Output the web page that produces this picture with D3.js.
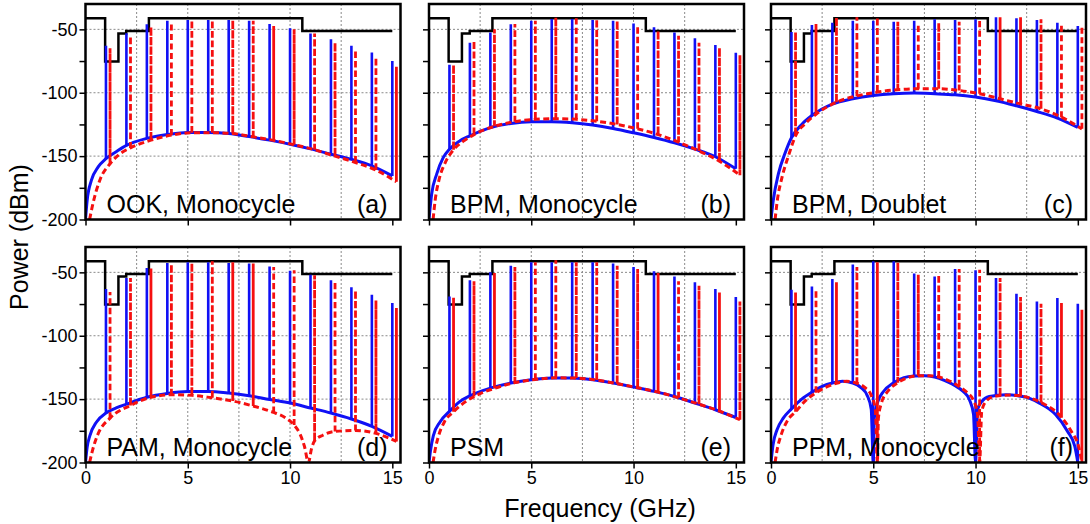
<!DOCTYPE html>
<html><head><meta charset="utf-8">
<script src="https://cdn.jsdelivr.net/npm/d3@7"></script>
<style>
html,body{margin:0;padding:0;background:#fff;}
text{font-family:"Liberation Sans",Arial,sans-serif;}
</style></head>
<body><svg id="chart" width="1090" height="524"></svg>
<script>
// ---------------- DATA ----------------
const panelNames = ["OOK, Monocycle","BPM, Monocycle","BPM, Doublet","PAM, Monocycle","PSM","PPM, Monocycle"];
const panelTags = ["(a)","(b)","(c)","(d)","(e)","(f)"];
const freqBlue = [1,2,3,4,5,6,7,8,9,10,11,12,13,14,15];
const freqRed = [1.2,2.2,3.2,4.2,5.2,6.2,7.2,8.2,9.2,10.2,11.2,12.2,13.2,14.2,15.2];
const xTickValues = [0,5,10,15];
const yTickValues = [-200,-175,-150,-125,-100,-75,-50];
const yTickLabels = {"-200":"-200","-150":"-150","-100":"-100","-50":"-50"};
const xGrid = [2.5,5,7.5,10,12.5];
const yGrid = [-150,-100,-50];
// FCC indoor mask (frequency GHz, dBm) – step after each point
const maskPoints = [[0,-41.3],[0.96,-75.3],[1.61,-53.3],[1.99,-51.3],[3.1,-41.3],[10.6,-51.3],[15,-51.3]];

const peaksBlueA = [-63,-53,-46,-43.2,-42.7,-42.7,-42.7,-43.2,-45.8,-49.2,-53.2,-57.9,-62.9,-68.2,-75];
const peaksRedA  = [-65,-55.3,-48,-44.8,-42.7,-42.7,-42.7,-43.2,-47.4,-50,-53.2,-60.5,-66.3,-72.1,-79.5];
const envBlueA = [[0,-200],[0.08,-185],[0.29,-169],[0.62,-158.5],[1,-152],[1.5,-146.5],[2,-141.5],[3,-136],[4,-133],[5,-131.3],[6,-131.3],[7,-132.1],[8,-134.6],[9,-137.4],[10,-140.6],[11,-144.3],[12,-148.5],[13,-152.6],[14,-157.7],[15,-165.6]];
const envRedA = [[0.2,-200],[0.37,-187],[0.7,-169],[1.2,-156],[1.7,-148],[2.2,-143.5],[3.2,-137.4],[4.2,-133.4],[5.2,-131.6],[6.2,-131.6],[7.2,-132.2],[8.2,-134.8],[9.2,-137.6],[10.2,-141],[11.2,-145],[12.2,-150],[13.2,-155],[14.2,-161],[15.2,-170.3]];

const peaksBlueB = [-78,-60.6,-52.4,-46,-43.2,-41.9,-41.9,-42.7,-43.2,-45.3,-48.4,-52.4,-57.1,-62.4,-68.5];
const peaksRedB  = [-78,-59,-50,-45.8,-43.2,-40.5,-40,-41.9,-43.2,-47.2,-51.1,-55,-60.6,-64.5,-70.3];
const envBlueB = [[0,-200],[0.13,-180],[0.38,-164],[0.7,-151],[1,-144.5],[1.5,-138],[2,-134],[3,-127.5],[4,-124.2],[5,-122.9],[6,-122.9],[7,-123.7],[8,-125.5],[9,-128.2],[10,-131.6],[11,-135.3],[12,-139.5],[13,-144.5],[14,-150.5],[15,-160]];
const envRedB = [[0.2,-200],[0.3,-185],[0.5,-168],[0.8,-155],[1.2,-145],[1.7,-138],[2.2,-133],[3.2,-126.5],[4.2,-122.8],[5.2,-121],[6.2,-120.5],[7.2,-121],[8.2,-122.5],[9.2,-125],[10.2,-128.5],[11.2,-133],[12.2,-139],[13.2,-146],[14.2,-154],[15.2,-165]];

const peaksBlueC = [-52,-46.6,-44.8,-43.2,-43.2,-44,-43.2,-42.1,-42.7,-42.1,-40.5,-41.3,-42.7,-44.8,-47.4];
const peaksRedC  = [-52,-45.8,-40.5,-40.5,-40.5,-44,-45.8,-44.8,-44,-42.1,-40.5,-40.5,-42.1,-45.8,-47.4];
const envBlueC = [[0,-200],[0.11,-185],[0.36,-164],[0.68,-148],[1,-135.5],[1.5,-125],[2,-118],[3,-109],[4,-104.8],[5,-102.2],[6,-100.8],[7,-100.3],[8,-100.8],[9,-101.6],[10,-103.4],[11,-106.3],[12,-110.3],[13,-114.8],[14,-120],[15,-127.4]];
const envRedC = [[0.2,-200],[0.3,-186],[0.55,-166],[0.85,-150],[1.2,-134],[1.7,-124],[2.2,-117],[3.2,-107.5],[4.2,-102.5],[5.2,-99.5],[6.2,-97.6],[7.2,-96.8],[8.2,-96.8],[9.2,-98.2],[10.2,-100.8],[11.2,-104.8],[12.2,-108.8],[13.2,-112.7],[14.2,-119.3],[15.2,-128.5]];

const peaksBlueD = [-63.1,-54.4,-46.5,-42.6,-42,-42,-42.6,-43.1,-45.3,-48.7,-51.8,-56.3,-61.8,-67.6,-74.2];
const peaksRedD  = [-65.5,-54.4,-47,-43.6,-42.6,-41.3,-42,-43.1,-45.8,-48.4,-52.3,-57.1,-64.2,-72.1,-78.1];
const envBlueD = [[0,-200],[0.08,-188],[0.21,-179],[0.54,-168],[1,-161],[1.5,-157],[2,-154],[3,-148.5],[4,-145.5],[5,-144],[6,-144],[7,-145.2],[8,-147.3],[9,-150.3],[10,-153.1],[11,-157],[12,-161],[13,-165.7],[14,-171.5],[15,-179.4]];
const envRedD = [[0.2,-200],[0.35,-190],[0.6,-178],[1.2,-165],[2.2,-155],[3.2,-148.5],[4.2,-146.6],[5.2,-147],[6.2,-149],[7.2,-151.5],[8.2,-155.5],[9.2,-160.5],[9.8,-165],[10.2,-170.5],[10.5,-178],[10.7,-187],[10.9,-200],[11.05,-189],[11.2,-183],[11.6,-178.5],[12.2,-175.5],[13.2,-174.7],[14.2,-177],[15.2,-183.4]];

const peaksBlueE = [-69,-56.3,-50,-44.7,-42.1,-42.1,-42.1,-42.1,-43.1,-45.8,-49.2,-53.2,-57.9,-63.2,-69.5];
const peaksRedE  = [-70,-57,-50.5,-45.8,-42.1,-40.5,-42.1,-42.1,-44.7,-47.4,-50.5,-57.1,-60.5,-65.8,-72.9];
const envBlueE = [[0,-200],[0.08,-190],[0.21,-179],[0.54,-168],[1,-159.7],[1.5,-152],[2,-147.4],[3,-141.3],[4,-137.3],[5,-134.7],[6,-133.4],[7,-133.4],[8,-134.7],[9,-137.3],[10,-140.5],[11,-143.9],[12,-147.9],[13,-153.1],[14,-158.4],[15,-164.5]];
const envRedE = [[0.2,-200],[0.3,-190],[0.45,-180],[0.75,-168],[1.2,-160],[1.7,-153],[2.2,-148],[3.2,-141.5],[4.2,-137],[5.2,-134.5],[6.2,-133.2],[7.2,-133.4],[8.2,-135],[9.2,-137.8],[10.2,-141],[11.2,-144.5],[12.2,-149],[13.2,-154],[14.2,-159.5],[15.2,-166.3]];

const peaksBlueF = [-63.7,-61.1,-55.3,-43.9,-41.3,-41.3,-51,-53.2,-47.3,-48.4,-54.4,-66.8,-72.9,-70.2,-74.7];
const peaksRedF  = [-65.8,-63.7,-57.9,-45.8,-42.1,-42.1,-51.8,-51.8,-47.4,-47.9,-54.4,-69.5,-74.7,-74.2,-79.5];
const envBlueF = [[0,-200],[0.1,-186],[0.3,-174],[0.6,-165],[1,-157.7],[1.5,-150],[2,-144.5],[2.5,-140],[3,-137.3],[3.5,-136],[4,-137.3],[4.4,-141],[4.7,-147],[4.9,-158],[5,-200],[5.05,-165],[5.2,-153],[5.5,-144],[6,-137],[6.5,-133],[7,-131.8],[7.5,-131.5],[8,-132.6],[8.5,-135.5],[9,-139.5],[9.4,-144],[9.7,-150.5],[9.9,-162],[10,-200],[10.1,-158],[10.3,-152],[10.67,-148],[11.5,-146.6],[12.45,-148.4],[13.1,-153],[13.9,-162],[14.5,-175.5],[14.85,-187],[15,-200]];
const envRedF = [[0.2,-200],[0.3,-190],[0.5,-178],[0.8,-167],[1.2,-160],[1.7,-151],[2.2,-145],[3.2,-137.5],[3.7,-136],[4.2,-137.5],[4.6,-141],[4.9,-147],[5.1,-158],[5.2,-200],[5.25,-165],[5.4,-153],[5.7,-144],[6.2,-137],[6.7,-133],[7.2,-131.5],[7.7,-131.5],[8.2,-132.5],[8.7,-135.5],[9.2,-140],[9.6,-145],[9.9,-151],[10.1,-162],[10.2,-200],[10.3,-160],[10.5,-152],[10.9,-148],[11.7,-146.8],[12.6,-148.8],[13.3,-153.5],[14.1,-162.5],[14.7,-176],[15.05,-188],[15.2,-200]];

const xTitle = "Frequency (GHz)";
const yTitle = "Power (dBm)";

// ---------------- LAYOUT ----------------
const panelLeft = [85.5, 429, 771];
const panelTop = [4, 247];
const panelW = 315, panelH = 215.5;
const BLUE = "#1010f5", RED = "#f51010";

const panels = [
  {peaksBlue:peaksBlueA, peaksRed:peaksRedA, envBlue:envBlueA, envRed:envRedA},
  {peaksBlue:peaksBlueB, peaksRed:peaksRedB, envBlue:envBlueB, envRed:envRedB},
  {peaksBlue:peaksBlueC, peaksRed:peaksRedC, envBlue:envBlueC, envRed:envRedC},
  {peaksBlue:peaksBlueD, peaksRed:peaksRedD, envBlue:envBlueD, envRed:envRedD},
  {peaksBlue:peaksBlueE, peaksRed:peaksRedE, envBlue:envBlueE, envRed:envRedE},
  {peaksBlue:peaksBlueF, peaksRed:peaksRedF, envBlue:envBlueF, envRed:envRedF}
];

const svg = d3.select("#chart");
const x = d3.scaleLinear().domain([0, 15.4]).range([0, panelW]);
const y = d3.scaleLinear().domain([-200, -30]).range([panelH, 0]);
const lineGen = d3.line().x(d => x(d[0])).y(d => y(d[1])).curve(d3.curveMonotoneX);
const maskGen = d3.line().x(d => x(d[0])).y(d => y(d[1])).curve(d3.curveStepAfter);

panels.forEach((p, i) => {
  const col = i % 3, row = Math.floor(i / 3);
  const g = svg.append("g").attr("transform", `translate(${panelLeft[col]},${panelTop[row]})`);
  const clipId = "clip" + i;
  g.append("clipPath").attr("id", clipId).append("rect").attr("width", panelW).attr("height", panelH);

  // grid
  g.selectAll(".gx").data(xGrid).enter().append("line")
    .attr("x1", d => x(d)).attr("x2", d => x(d)).attr("y1", 0).attr("y2", panelH)
    .attr("stroke", "#8a8a8a").attr("stroke-width", 1).attr("stroke-dasharray", "2,2");
  g.selectAll(".gy").data(yGrid).enter().append("line")
    .attr("x1", 0).attr("x2", panelW).attr("y1", d => y(d)).attr("y2", d => y(d))
    .attr("stroke", "#8a8a8a").attr("stroke-width", 1).attr("stroke-dasharray", "2,2");

  // axes
  const ya = g.append("g").call(d3.axisLeft(y).tickValues(yTickValues).tickSize(6).tickPadding(2)
      .tickFormat(d => col === 0 ? (yTickLabels[String(d)] || "") : ""));
  const xa = g.append("g").attr("transform", `translate(0,${panelH})`)
    .call(d3.axisBottom(x).tickValues(xTickValues).tickSize(6).tickPadding(3)
      .tickFormat(d => row === 1 ? String(d) : ""));
  [ya, xa].forEach(a => {
    a.select(".domain").remove();
    a.selectAll(".tick line").attr("stroke", "#000").attr("stroke-width", 1.5);
    a.selectAll(".tick text").attr("fill", "#000").style("font-size", "18px")
      .style("font-family", "'Liberation Sans', Arial, sans-serif");
  });

  const plot = g.append("g").attr("clip-path", `url(#${clipId})`);

  // mask
  plot.append("path").attr("d", maskGen(maskPoints)).attr("fill", "none")
    .attr("stroke", "#000").attr("stroke-width", 2.5);

  const envB = d3.scaleLinear().domain(p.envBlue.map(d => d[0])).range(p.envBlue.map(d => d[1]));
  const envR = d3.scaleLinear().domain(p.envRed.map(d => d[0])).range(p.envRed.map(d => d[1]));

  // blue envelope + lines
  plot.append("path").attr("d", lineGen(p.envBlue)).attr("fill", "none")
    .attr("stroke", BLUE).attr("stroke-width", 3);
  plot.selectAll(".bl").data(freqBlue).enter().append("line")
    .attr("x1", d => x(d)).attr("x2", d => x(d))
    .attr("y1", d => y(envB(d))).attr("y2", (d, k) => y(p.peaksBlue[k]))
    .attr("stroke", BLUE).attr("stroke-width", 2.6);

  // red lines (up and back down, dashed)
  plot.selectAll(".rl").data(freqRed).enter().append("path")
    .attr("d", (d, k) => {
      const xx = x(d), yb = y(envR(d)), yt = y(p.peaksRed[k]);
      return `M${xx},${yb}L${xx},${yt}L${xx},${yb}`;
    })
    .attr("fill", "none").attr("stroke", RED).attr("stroke-width", 2.8)
    .attr("stroke-dasharray", "6,3.5");
  plot.append("path").attr("d", lineGen(p.envRed)).attr("fill", "none")
    .attr("stroke", RED).attr("stroke-width", 3).attr("stroke-dasharray", "6,3.5");

  // labels
  g.append("text").attr("x", 21).attr("y", panelH - 7).text(panelNames[i])
    .style("font-size", "25px").attr("fill", "#000");
  g.append("text").attr("x", panelW - 13).attr("y", panelH - 7).attr("text-anchor", "end")
    .text(panelTags[i]).style("font-size", "25px").attr("fill", "#000");

  // frame
  g.append("rect").attr("width", panelW).attr("height", panelH).attr("fill", "none")
    .attr("stroke", "#000").attr("stroke-width", 2.5);
});

svg.append("text").attr("x", 600).attr("y", 517).attr("text-anchor", "middle")
  .text(xTitle).style("font-size", "25px").attr("fill", "#000");
svg.append("text").attr("transform", "translate(28,237) rotate(-90)").attr("text-anchor", "middle")
  .text(yTitle).style("font-size", "25px").attr("fill", "#000");
</script>
</body></html>
